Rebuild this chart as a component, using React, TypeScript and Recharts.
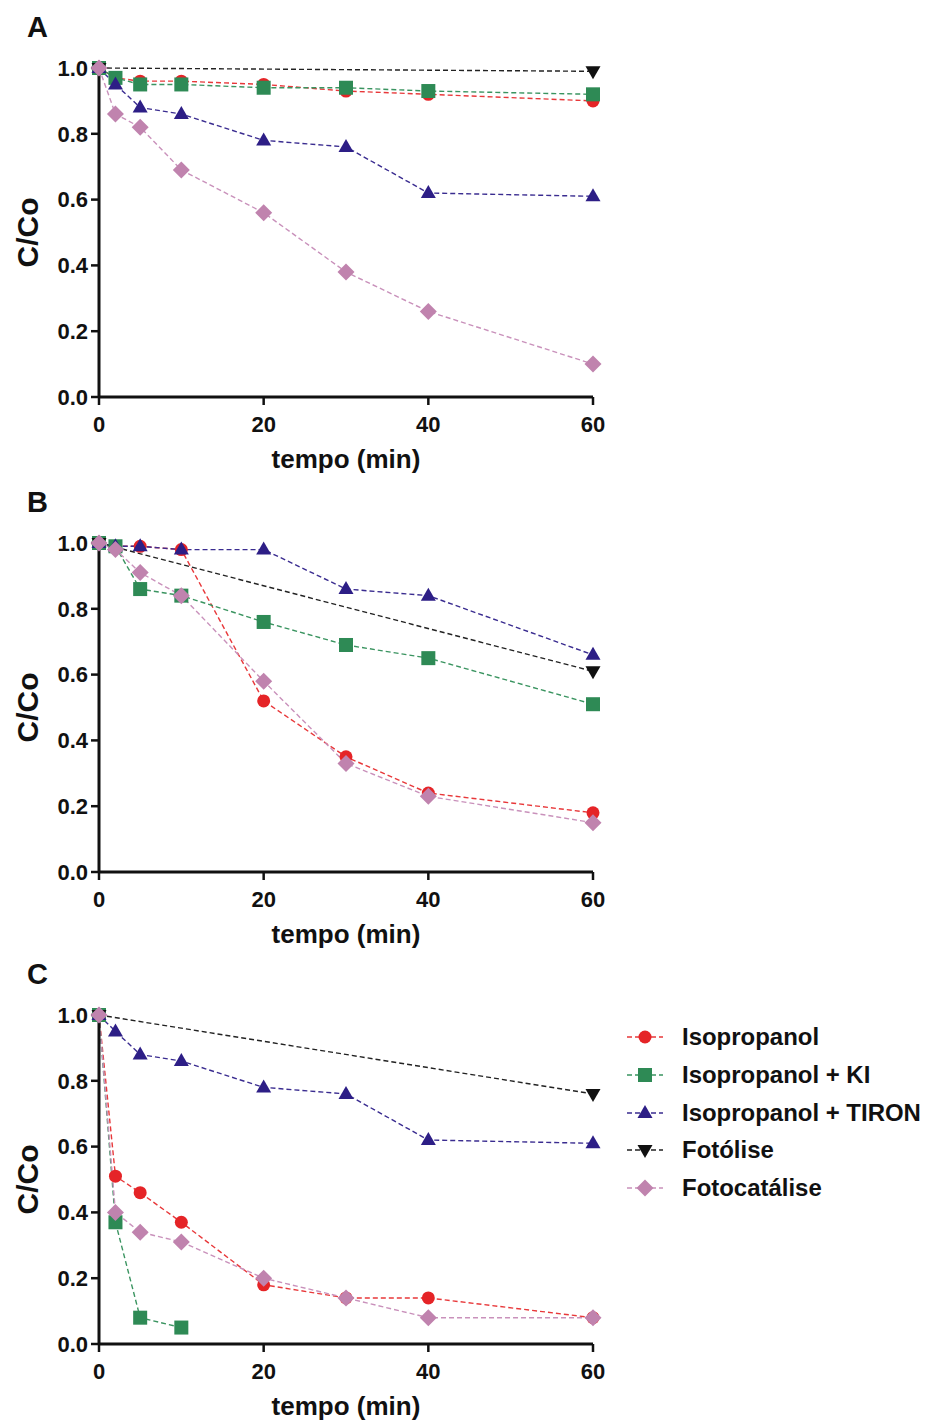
import { LineChart, Line, XAxis, YAxis } from 'recharts'

const times = [0, 2, 5, 10, 20, 30, 40, 60]
const photolysisTimes = [0, 60]

// panel A
const aIso = [1.0, 0.97, 0.96, 0.96, 0.95, 0.93, 0.92, 0.90]
const aIsoKI = [1.0, 0.97, 0.95, 0.95, 0.94, 0.94, 0.93, 0.92]
const aIsoTiron = [1.0, 0.95, 0.88, 0.86, 0.78, 0.76, 0.62, 0.61]
const aPhotolysis = [1.0, 0.99]
const aPhotocat = [1.0, 0.86, 0.82, 0.69, 0.56, 0.38, 0.26, 0.10]

// panel B
const bIso = [1.0, 0.99, 0.99, 0.98, 0.52, 0.35, 0.24, 0.18]
const bIsoKI = [1.0, 0.99, 0.86, 0.84, 0.76, 0.69, 0.65, 0.51]
const bIsoTiron = [1.0, 0.99, 0.99, 0.98, 0.98, 0.86, 0.84, 0.66]
const bPhotolysis = [1.0, 0.61]
const bPhotocat = [1.0, 0.98, 0.91, 0.84, 0.58, 0.33, 0.23, 0.15]

// panel C
const cIso = [1.0, 0.51, 0.46, 0.37, 0.18, 0.14, 0.14, 0.08]
const cIsoKI = [1.0, 0.37, 0.08, 0.05]
const cIsoTiron = [1.0, 0.95, 0.88, 0.86, 0.78, 0.76, 0.62, 0.61]
const cPhotolysis = [1.0, 0.76]
const cPhotocat = [1.0, 0.40, 0.34, 0.31, 0.20, 0.14, 0.08, 0.08]

const legendLabels = ['Isopropanol', 'Isopropanol + KI', 'Isopropanol + TIRON', 'Fotólise', 'Fotocatálise']
const xTicks = [0, 20, 40, 60]
const yTicks = [0, 0.2, 0.4, 0.6, 0.8, 1.0]

const FONT = "'Liberation Sans', Arial, Helvetica, sans-serif"

type Shape = 'circle' | 'square' | 'up' | 'down' | 'diamond'
const STYLES: { color: string; line: string; shape: Shape }[] = [
  { color: '#e52427', line: '#e8383a', shape: 'circle' },
  { color: '#2e8a55', line: '#3a9460', shape: 'square' },
  { color: '#2d1e86', line: '#3a2c90', shape: 'up' },
  { color: '#111111', line: '#222222', shape: 'down' },
  { color: '#c083ae', line: '#c991bb', shape: 'diamond' },
]

function Marker({ shape, cx, cy, color }: { shape: Shape; cx: number; cy: number; color: string }) {
  if (shape === 'circle') return <circle cx={cx} cy={cy} r={6.5} fill={color} />
  if (shape === 'square') return <rect x={cx - 7} y={cy - 7} width={14} height={14} fill={color} />
  if (shape === 'up') return <polygon points={`${cx},${cy - 8} ${cx - 7.5},${cy + 5} ${cx + 7.5},${cy + 5}`} fill={color} />
  if (shape === 'down') return <polygon points={`${cx},${cy + 8} ${cx - 7.5},${cy - 5} ${cx + 7.5},${cy - 5}`} fill={color} />
  return <polygon points={`${cx},${cy - 8.5} ${cx + 8.5},${cy} ${cx},${cy + 8.5} ${cx - 8.5},${cy}`} fill={color} />
}

function toSeries(ts: number[], vals: number[]) {
  return vals.map((v, i) => ({ t: ts[i], v }))
}

const tickStyle = { fill: '#111', fontSize: 22, fontWeight: 700, fontFamily: FONT }

function Panel({ top, letter, sets }: { top: number; letter: string; sets: { t: number; v: number }[][] }) {
  return (
    <>
      <div style={{ position: 'absolute', left: 27, top: top - 56, fontFamily: FONT, fontWeight: 700, fontSize: 29, lineHeight: '30px', color: '#111' }}>
        {letter}
      </div>
      <div style={{ position: 'absolute', left: 0, top: top - 20 }}>
        <LineChart width={620} height={440} margin={{ top: 20, right: 27, left: 0, bottom: 0 }}>
          <XAxis
            dataKey="t"
            type="number"
            domain={[0, 60]}
            ticks={xTicks}
            allowDuplicatedCategory={false}
            height={91}
            tick={tickStyle}
            tickSize={8}
            tickMargin={11}
            axisLine={{ stroke: '#111', strokeWidth: 3 }}
            tickLine={{ stroke: '#111', strokeWidth: 2.5 }}
            label={{ value: 'tempo (min)', position: 'insideBottom', offset: 20, style: { fill: '#111', fontSize: 26, fontWeight: 700, fontFamily: FONT } }}
          />
          <YAxis
            type="number"
            domain={[0, 1]}
            ticks={yTicks}
            width={99}
            tick={tickStyle}
            tickFormatter={(v: number) => v.toFixed(1)}
            tickSize={8}
            tickMargin={3}
            axisLine={{ stroke: '#111', strokeWidth: 3 }}
            tickLine={{ stroke: '#111', strokeWidth: 2.5 }}
            label={{ value: 'C/Co', angle: -90, position: 'insideLeft', offset: 27, style: { textAnchor: 'middle', fill: '#111', fontSize: 30, fontWeight: 700, fontFamily: FONT } }}
          />
          {sets.map((data, i) => {
            const s = STYLES[i]
            return (
              <Line
                key={i}
                data={data}
                dataKey="v"
                type="linear"
                stroke={s.line}
                strokeWidth={1.4}
                strokeDasharray="5 3"
                isAnimationActive={false}
                dot={(p: any) => <Marker key={`${letter}-${i}-${p.index}`} shape={s.shape} cx={p.cx} cy={p.cy} color={s.color} />}
                activeDot={false}
              />
            )
          })}
        </LineChart>
      </div>
    </>
  )
}

function Legend() {
  const rows = [27, 65, 103, 140, 178]
  return (
    <svg style={{ position: 'absolute', left: 610, top: 1010 }} width={316} height={200}>
      {legendLabels.map((label, i) => {
        const s = STYLES[i]
        const y = rows[i]
        return (
          <g key={label}>
            <line x1={17} x2={53} y1={y} y2={y} stroke={s.line} strokeWidth={1.4} strokeDasharray="5 3" />
            <Marker shape={s.shape} cx={35} cy={y} color={s.color} />
            <text x={72} y={y + 8} fontFamily={FONT} fontWeight={700} fontSize={23.5} fill="#111" transform={`translate(72 0) scale(1.02 1) translate(-72 0)`}>{label}</text>
          </g>
        )
      })}
    </svg>
  )
}

export default function App() {
  const panelA = [
    toSeries(times, aIso), toSeries(times, aIsoKI), toSeries(times, aIsoTiron),
    toSeries(photolysisTimes, aPhotolysis), toSeries(times, aPhotocat),
  ]
  const panelB = [
    toSeries(times, bIso), toSeries(times, bIsoKI), toSeries(times, bIsoTiron),
    toSeries(photolysisTimes, bPhotolysis), toSeries(times, bPhotocat),
  ]
  const panelC = [
    toSeries(times, cIso), toSeries(times, cIsoKI), toSeries(times, cIsoTiron),
    toSeries(photolysisTimes, cPhotolysis), toSeries(times, cPhotocat),
  ]
  return (
    <div style={{ position: 'absolute', left: 0, top: 0, width: 926, height: 1423, background: '#fff', overflow: 'hidden' }}>
      <Panel top={68} letter="A" sets={panelA} />
      <Panel top={543} letter="B" sets={panelB} />
      <Panel top={1015} letter="C" sets={panelC} />
      <Legend />
    </div>
  )
}
